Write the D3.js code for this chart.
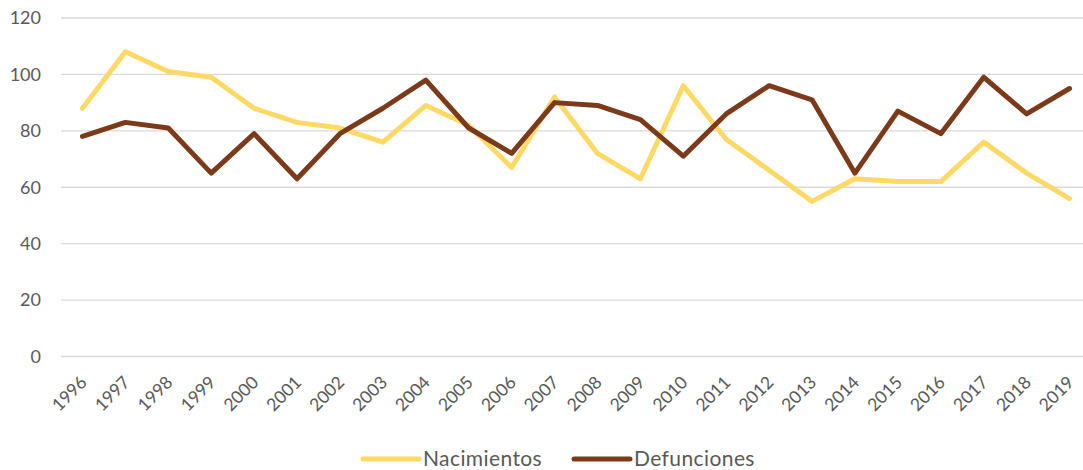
<!DOCTYPE html>
<html>
<head>
<meta charset="utf-8">
<script src="https://cdn.jsdelivr.net/npm/d3@7"></script>
<style>
	body { margin: 0; background: #fff; }
	svg { display: block; font-family: Lato, "Open Sans", sans-serif; }
</style>
</head>
<body>
<div id="chart"></div>
<script>
const years = ["1996", "1997", "1998", "1999", "2000", "2001", "2002", "2003", "2004", "2005", "2006", "2007",
	"2008", "2009", "2010", "2011", "2012", "2013", "2014", "2015", "2016", "2017", "2018", "2019"];
const nacimientos = [88, 108, 101, 99, 88, 83, 81, 76, 89, 82, 67, 92, 72, 63, 96, 77, 66, 55, 63, 62, 62, 76, 65, 56];
const defunciones = [78, 83, 81, 65, 79, 63, 79, 88, 98, 81, 72, 90, 89, 84, 71, 86, 96, 91, 65, 87, 79, 99, 86, 95];
const yTicks = [0, 20, 40, 60, 80, 100, 120];

const series = [
	{name: "Nacimientos", values: nacimientos, color: "#FFD966"},
	{name: "Defunciones", values: defunciones, color: "#7B3A19"},
];

const width = 1083;
const height = 470;
const MARGIN = {top: 18, right: -8, bottom: 113.5, left: 61};

const svg = d3.select("#chart")
	.append("svg")
	.attr("width", width)
	.attr("height", height);

const innerW = width - MARGIN.left - MARGIN.right;
const innerH = height - MARGIN.top - MARGIN.bottom;

const g = svg.append("g")
	.attr("transform", `translate(${MARGIN.left},${MARGIN.top})`);

const x = d3.scalePoint()
	.domain(years)
	.range([0, innerW])
	.padding(0.5);

const y = d3.scaleLinear()
	.domain([0, 120])
	.range([innerH, 0]);

// Gridlines
g.append("g")
	.selectAll("line")
	.data(yTicks)
	.join("line")
	.attr("x1", 0)
	.attr("x2", innerW)
	.attr("y1", d => y(d))
	.attr("y2", d => y(d))
	.attr("stroke", "#D9D9D9")
	.attr("stroke-width", 1.3);

// Y axis labels
const yAxis = g.append("g")
	.call(d3.axisLeft(y).tickValues(yTicks).tickSize(0).tickPadding(20));
yAxis.select(".domain").remove();
yAxis.selectAll("text")
	.attr("fill", "#595959")
	.attr("font-size", "18px")
	.attr("font-family", "Lato, sans-serif");

// X axis labels
const xAxis = g.append("g")
	.attr("transform", `translate(0,${innerH})`)
	.call(d3.axisBottom(x).tickSize(0));
xAxis.select(".domain").remove();
xAxis.selectAll("text")
	.attr("fill", "#595959")
	.attr("font-size", "17.5px")
	.attr("font-family", "Lato, sans-serif")
	.attr("text-anchor", "end")
	.attr("dy", null)
	.attr("y", 0)
	.attr("transform", "translate(5,27) rotate(-45)");

// Lines
const line = d3.line()
	.x((d, i) => x(years[i]))
	.y(d => y(d));

g.selectAll("path.series")
	.data(series)
	.join("path")
	.attr("class", "series")
	.attr("d", d => line(d.values))
	.attr("fill", "none")
	.attr("stroke", d => d.color)
	.attr("stroke-width", 5)
	.attr("stroke-linejoin", "round")
	.attr("stroke-linecap", "round");

// Legend
const legendX = [363, 574];
const legend = svg.append("g")
	.selectAll("g")
	.data(series)
	.join("g")
	.attr("transform", (d, i) => `translate(${legendX[i]},459)`);

legend.append("line")
	.attr("x1", 0)
	.attr("x2", 56)
	.attr("stroke", d => d.color)
	.attr("stroke-width", 5)
	.attr("stroke-linecap", "round");

legend.append("text")
	.attr("x", 60)
	.attr("dy", "0.35em")
	.attr("fill", "#595959")
	.attr("font-size", "21px")
	.attr("letter-spacing", "0.4px")
	.attr("font-family", "Lato, sans-serif")
	.text(d => d.name);
</script>
</body>
</html>
